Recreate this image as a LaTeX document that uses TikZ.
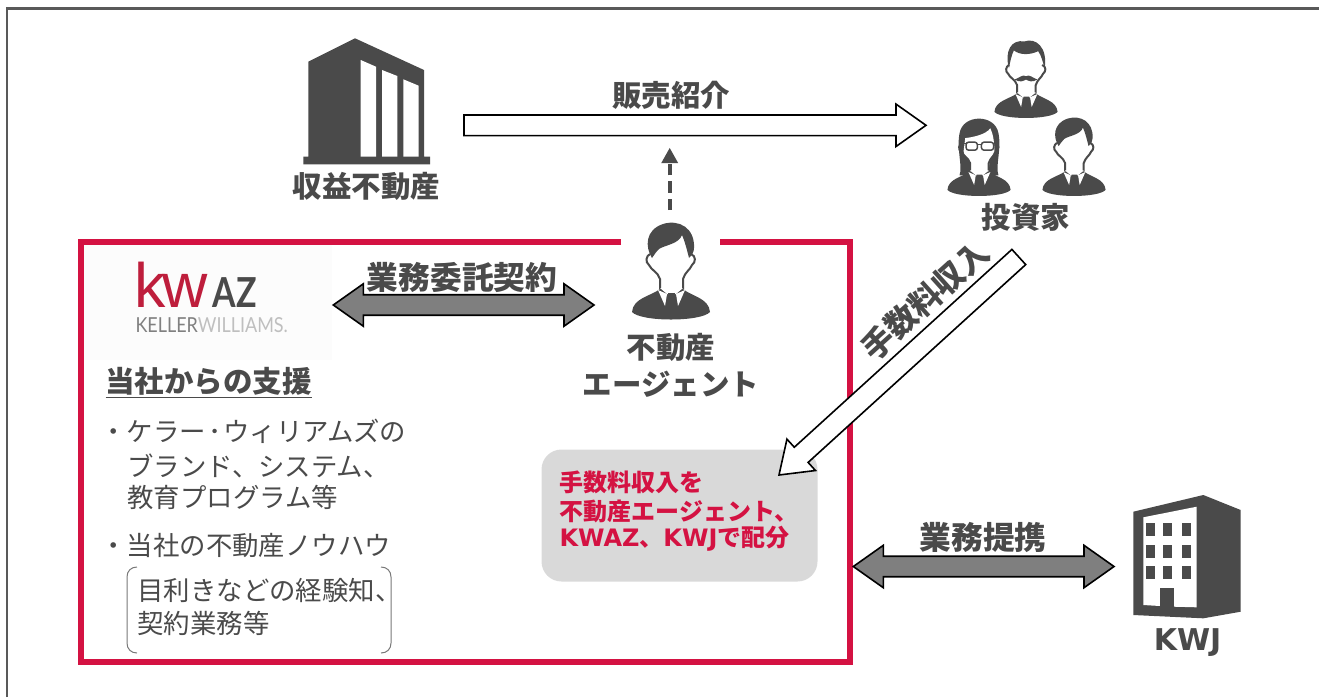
\documentclass[tikz,border=0pt]{standalone}
\usepackage{fontspec}
\usepackage{graphicx}
\setmainfont{Noto Sans CJK JP}
\newfontfamily\verdanalike{DejaVu Sans}
\newfontfamily\logosans{Liberation Sans}
\newfontfamily\logolato{Lato}
\usetikzlibrary{calc,arrows.meta}

\definecolor{icondark}{RGB}{74,74,74}
\definecolor{framered}{RGB}{212,18,66}
\definecolor{logored}{RGB}{190,30,60}
\definecolor{boxgray}{RGB}{217,217,217}
\definecolor{arrowgray}{RGB}{127,127,127}

\tikzset{every picture/.style={line width=0.75pt}}
\tikzset{
	iconflip/.style={yscale=-1},
	blockline/.style={draw=black,line width=1.2pt,miter limit=10},
	titletext/.style={text=icondark,font=\bfseries\fontsize{22.1}{28}\selectfont,inner sep=0pt},
	bigtitle/.style={text=icondark,font=\bfseries\fontsize{23.8}{28}\selectfont,inner sep=0pt},
	bodytext/.style={text=icondark,anchor=west,font=\fontsize{19.8}{24}\selectfont,inner sep=0pt},
	sharetext/.style={anchor=west,text=framered,inner sep=0pt,font=\bfseries\fontsize{18}{22}\selectfont},
	personbase/.pic={
		\fill[icondark] (-11,67) .. controls (-20,74) and (-38,76) .. (-39,90) .. controls (-30,100) and (30,100) .. (39,90) .. controls (38,76) and (20,74) .. (12,67) -- cycle;
		\draw[icondark,line width=1.5pt] (-11,67) -- (-11,57) .. controls (-13,50) and (-20,48) .. (-22,43) .. controls (-26,40) and (-25,34) .. (-21,32);
		\draw[icondark,line width=1.5pt] (12,67) -- (12,57) .. controls (14,50) and (19,48) .. (21,43) .. controls (25,40) and (25,34) .. (20,32);
		\fill[white] (-13,68) -- (-4,72) -- (-6,84) -- cycle;
		\fill[white] (14,68) -- (5,72) -- (7,84) -- cycle;
		\fill[white] (-11,66) -- (12,66) -- (5,72) -- (-4,72) -- cycle;
		\fill[icondark] (-3,71) -- (4,71) -- (3,76) -- (4,85) -- (.5,89) -- (-3,85) -- (-2,76) -- cycle;
	},
	hairside/.pic={
		\fill[icondark] (-19,36) .. controls (-26,25) and (-26,8) .. (-8,2) .. controls (8,-3) and (24,6) .. (23,26) .. controls (23,30) and (21,33) .. (18,36) .. controls (16,28) and (14,20) .. (11,13) .. controls (8,22) and (-6,23) .. (-12,27) .. controls (-15,30) and (-17,33) .. (-19,36) -- cycle;
	},
	hairslick/.pic={
		\fill[icondark] (-21,36) .. controls (-27,15) and (-18,0) .. (-2,3) .. controls (12,-2) and (27,10) .. (23,36) .. controls (21,30) and (19,20) .. (15,15) .. controls (5,20) and (-8,20) .. (-15,14) .. controls (-18,20) and (-20,30) .. (-21,36) -- cycle;
		\fill[icondark] (-14,50) .. controls (-8,48) and (-4,43) .. (0,46) .. controls (4,43) and (8,48) .. (14,50) .. controls (8,54) and (3,52) .. (0,50) .. controls (-3,52) and (-8,54) .. (-14,50) -- cycle;
	},
	hairlong/.pic={
		\fill[icondark] (-24,72) .. controls (-20,60) and (-28,40) .. (-24,20) .. controls (-20,-4) and (20,-4) .. (24,20) .. controls (28,40) and (20,60) .. (24,72) -- cycle;
		\fill[white] (-17,26) .. controls (-8,25) and (8,22) .. (14,14) .. controls (17,20) and (19,30) .. (19,42) .. controls (17,48) and (12,52) .. (12,68) -- (-11,68) -- (-11,57) .. controls (-13,50) and (-19,48) .. (-19,42) -- cycle;
	},
	glasses/.pic={
		\draw[icondark,line width=1.1pt,fill=white,rounded corners=2] (-16,31) rectangle (-2,41);
		\draw[icondark,line width=1.1pt,fill=white,rounded corners=2] (3,31) rectangle (18,41);
		\draw[icondark,line width=1.1pt] (-2,34) -- (3,34) (-16,33) -- (-21,33) (18,33) -- (23,33);
	},
}

% block arrow with one head
\newcommand{\blockone}[3][]{%
	\coordinate (headb) at ($(#3)!22.5pt!(#2)$);
	\draw[blockline,#1] ($(#2)!7.7pt!90:(#3)$) -- ($(headb)!7.7pt!90:(#3)$) -- ($(headb)!15.9pt!90:(#3)$) -- (#3) -- ($(headb)!15.9pt!-90:(#3)$) -- ($(headb)!7.7pt!-90:(#3)$) -- ($(#2)!7.7pt!-90:(#3)$) -- cycle;
}
% block arrow with two heads
\newcommand{\blocktwo}[3][]{%
	\coordinate (heada) at ($(#2)!22.5pt!(#3)$);
	\coordinate (headb) at ($(#3)!22.5pt!(#2)$);
	\draw[blockline,#1] (#2) -- ($(heada)!15.9pt!90:(#3)$) -- ($(heada)!7.7pt!90:(#3)$) -- ($(headb)!7.7pt!90:(#3)$) -- ($(headb)!15.9pt!90:(#3)$) -- (#3) -- ($(headb)!15.9pt!-90:(#3)$) -- ($(headb)!7.7pt!-90:(#3)$) -- ($(heada)!7.7pt!-90:(#3)$) -- ($(heada)!15.9pt!-90:(#3)$) -- cycle;
}

\begin{document}
\begin{tikzpicture}[x=0.75pt,y=0.75pt,yscale=-1,xscale=1]
	\useasboundingbox (0,0) rectangle (1319,697);

	%Outer frame
	\draw [color={rgb, 255:red, 89; green, 89; blue, 89 },line width=1.6pt] (7,697) -- (7,8.5) -- (1319,8.5) ;

	%Logo background
	\fill [color={rgb, 255:red, 252; green, 252; blue, 252 }] (84,245) rectangle (332,360) ;

	%Red frame with a gap for the agent
	\draw [color=framered,line width=4.5pt] (621,242.3) -- (81,242.3) -- (81,662.3) -- (850.3,662.3) -- (850.3,242.3) -- (720,242.3) ;

	%Gray box
	\draw (541,449) node (sharebox) [anchor=north west,fill=boxgray,rounded corners=15pt,minimum width=207pt,minimum height=99pt,inner sep=0pt] {} ;

	%Shape: property building
	\fill [icondark] (308.3,61.7) -- (355,38.3) -- (424,70) -- (424,156.7) -- (430,156.7) -- (430,164.3) -- (303.3,164.3) -- (303.3,156.7) -- (308.3,156.7) -- cycle ;
	\fill [white] (360.7,60) -- (376,66.7) -- (376,156.7) -- (360.7,156.7) -- cycle ;
	\fill [white] (382,70) -- (397.3,76) -- (397.3,156.7) -- (382,156.7) -- cycle ;
	\fill [white] (403.3,79.3) -- (418.7,85.7) -- (418.7,156.7) -- (403.3,156.7) -- cycle ;

	%Shape: KWJ building
	\fill [icondark] (1133.3,511.7) -- (1203.3,495) -- (1240.7,510) -- (1240.7,611.7) -- (1203.3,618.3) -- (1133.3,615) -- cycle ;
	\fill [white] (1143.3,517.3) -- (1196.7,506.7) -- (1196.7,607.3) -- (1174,606.7) -- (1174,588.3) -- (1160,588.3) -- (1160,606) -- (1143.3,605) -- cycle ;
	\fill [icondark] (1160,588.3) rectangle (1174,606.7) ;
	\foreach \wy in {529,551,572} {
		\foreach \wx in {1150,1167,1186} {
			\fill [icondark] (\wx-4,\wy-6) rectangle (\wx+5,\wy+7) ;
		}
	}

	%People
	\pic [iconflip] at (671,222) {hairside} ;
	\pic [iconflip] at (671,222) {personbase} ;
	\pic [iconflip,scale=.81] at (1026,39) {hairslick} ;
	\pic [iconflip,scale=.81] at (1026,39) {personbase} ;
	\pic [iconflip,scale=.81] at (979,117) {hairlong} ;
	\pic [iconflip,scale=.81] at (979,117) {personbase} ;
	\pic [iconflip,scale=.81] at (979,117) {glasses} ;
	\pic [iconflip,scale=.81] at (1074,117) {hairside} ;
	\pic [iconflip,scale=.81] at (1074,117) {personbase} ;

	%Arrow ends
	\coordinate (saleleft) at (464,125.3) ;
	\coordinate (saletip) at (926,125.3) ;
	\coordinate (feetail) at (1018.8,257) ;
	\coordinate (feetip) at (779,475) ;
	\coordinate (contractleft) at (333.3,305) ;
	\coordinate (contractright) at (594,305) ;
	\coordinate (tieleft) at (853.3,566.5) ;
	\coordinate (tieright) at (1114,566.5) ;
	\coordinate (agenttop) at (669.7,210) ;
	\coordinate (dashtip) at (669.7,147.7) ;

	%Block arrows
	\blockone[fill=white]{saleleft}{saletip}
	\blockone[fill=white]{feetail}{feetip}
	\blocktwo[fill=arrowgray]{contractleft}{contractright}
	\blocktwo[fill=arrowgray]{tieleft}{tieright}

	%Dashed arrow
	\draw [icondark,line width=3pt,dash pattern=on 8.5pt off 4.5pt,-{Triangle[length=11.5pt,width=11.8pt,sep=0pt]}] (agenttop) -- (dashtip) ;

	% Text Node
	\draw (366.5,186) node (propertylabel) [titletext] {収益不動産} ;
	% Text Node
	\draw (671,95) node (salelabel) [titletext] {販売紹介} ;
	% Text Node
	\draw (1026,217) node (investorlabel) [titletext] {投資家} ;
	% Text Node
	\draw (462,277) node (contractlabel) [bigtitle,fill=white,inner sep=1pt] {業務委託契約} ;
	% Text Node
	\draw (983,537) node (tielabel) [bigtitle] {業務提携} ;
	% Text Node
	\draw (671,347) node (agentlabel1) [titletext] {不動産} ;
	% Text Node
	\draw (671,384) node (agentlabel2) [titletext] {エージェント} ;
	% Text Node
	\draw (925,300) node (feelabel) [bigtitle,rotate=42] {手数料収入} ;
	% Text Node
	\draw (1187.5,643) node (kwjlabel) [text=icondark,font=\verdanalike\bfseries\fontsize{22.5}{26}\selectfont,inner sep=0pt] {KWJ} ;
	% Text Node
	\draw (105,383) node (supporthead) [titletext,anchor=west] {\underline{当社からの支援}} ;
	% Text Node
	\draw (100,431) node (support1) [bodytext] {・ケラー\kern1.5pt･\kern1.5ptウィリアムズの} ;
	% Text Node
	\draw (127,466) node (support2) [bodytext] {ブランド、システム、} ;
	% Text Node
	\draw (127,497) node (support3) [bodytext] {教育プログラム等} ;
	% Text Node
	\draw (100,546) node (support4) [bodytext] {・当社の不動産ノウハウ} ;
	% Text Node
	\draw (137,590) node (support5) [bodytext] {目利きなどの経験知、} ;
	% Text Node
	\draw (137,623) node (support6) [bodytext] {契約業務等} ;
	% Text Node
	\draw (559,482) node (share1) [sharetext] {手数料収入を} ;
	% Text Node
	\draw (559,511) node (share2) [sharetext] {不動産エージェント、} ;
	% Text Node
	\draw (559,539) node (share3) [sharetext] {{\verdanalike KWAZ}、{\verdanalike KWJ}で配分} ;

	%Brackets
	\draw [color={rgb, 255:red, 120; green, 120; blue, 120 },line width=0.75pt] (137,567) .. controls (131,567) and (127,571) .. (127,577) -- (127,643) .. controls (127,649) and (131,653) .. (137,653) ;
	\draw [color={rgb, 255:red, 120; green, 120; blue, 120 },line width=0.75pt] (381,567) .. controls (387,567) and (391,571) .. (391,577) -- (391,643) .. controls (391,649) and (387,653) .. (381,653) ;

	%Logo
	\draw (134,307) node (logokw) [anchor=base west,inner sep=0pt,text=logored,font=\logosans\fontsize{47}{50}\selectfont] {k\kern-2.5pt w} ;
	\draw (212,307) node (logoaz) [anchor=base west,inner sep=0pt,text=icondark,font=\logolato\bfseries\fontsize{31}{34}\selectfont] {\scalebox{.82}[1]{AZ}} ;
	\draw (135,332) node (logoname) [anchor=base west,inner sep=0pt,font=\logolato\fontsize{15.5}{18}\selectfont] {\scalebox{.87}[1]{\textcolor{gray}{KELLER}\textcolor{lightgray}{WILLIAMS.}}} ;
\end{tikzpicture}
\end{document}
